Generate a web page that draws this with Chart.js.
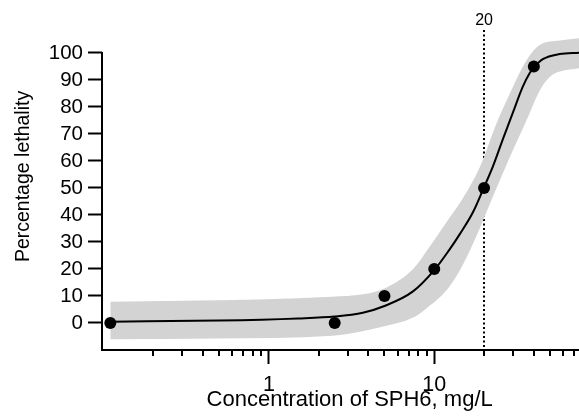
<!DOCTYPE html>
<html>
<head>
<meta charset="utf-8">
<script src="https://cdn.jsdelivr.net/npm/chart.js@4/dist/chart.umd.min.js"></script>
<style>
  html, body { margin: 0; padding: 0; background: #fff; }
  #wrap { width: 579px; height: 417px; }
</style>
</head>
<body>
<div id="wrap"><canvas id="c" width="579" height="417"></canvas></div>
<script>
// ---- data ----
const concentrations = [0.11, 2.5, 5, 10, 20, 40];          // mg/L
const lethality      = [0, 0, 10, 20, 50, 95];                // %

const fitX = [0.11, 0.5, 1.5, 2.5, 3.7, 5, 7.4, 10, 12.3, 14.3, 17.1, 20, 22.6, 25.9, 29.8, 34.3, 37.7, 40.4, 45.3, 57.3, 75];
const fitY = [0.5, 0.9, 1.7, 2.4, 3.8, 6.3, 11.6, 19.6, 27, 33, 40.9, 50.3, 57.9, 67.8, 77.7, 87.5, 92.5, 94.9, 97.7, 99.6, 100.1];

const bandUpperX = [0.11, 0.5, 1.5, 2.4, 3.7, 5.0, 7.5, 9.4, 11.9, 14.3, 18.9, 23.8, 28.7, 36.2, 43.6, 57.5, 75];
const bandUpperY = [7.9, 8.4, 9.2, 9.7, 10.6, 12.8, 20.2, 28.3, 37.5, 44.5, 57.9, 74, 85.1, 97.4, 103, 104.6, 105.4];

const bandLowerX = [0.11, 0.48, 2.44, 5.0, 7.4, 9.0, 11.9, 14.3, 17.2, 22.7, 28.7, 36.2, 43.6, 50.1, 57.5, 75];
const bandLowerY = [-6.0, -5.7, -4.7, -1.2, 1.9, 5.5, 12.2, 19.5, 29.5, 47, 61.6, 75.2, 86.3, 91.2, 93.1, 94.3];

const ec50Marker  = [20];
const yTicks      = [0, 10, 20, 30, 40, 50, 60, 70, 80, 90, 100];
const xMajorTicks = [1, 10];
const xMinorTicks = [0.2, 0.3, 0.4, 0.5, 0.6, 0.7, 0.8, 0.9, 2, 3, 4, 5, 6, 7, 8, 9, 20, 30, 40, 50, 60, 70];

const xTitle = 'Concentration of SPH6, mg/L';
const yTitle = 'Percentage lethality';

// ---- helpers ----
const pts = (xs, ys) => xs.map((x, i) => ({x: x, y: ys[i]}));
const FONT = "'Liberation Sans', Arial, Helvetica, sans-serif";
Chart.defaults.font.family = FONT;
Chart.defaults.color = '#000';

const X_MIN = 0.098, X_MAX = 75, Y_MIN = -10, Y_MAX = 108.5;

const axisExtras = {
  id: 'axisExtras',
  afterDraw(chart) {
    const {ctx, chartArea, scales} = chart;
    const xs = scales.x, ys = scales.y;
    ctx.save();
    ctx.strokeStyle = '#000';
    ctx.lineWidth = 2;
    const top = Math.round(ys.getPixelForValue(yTicks[yTicks.length - 1])) - 1;
    ctx.beginPath();
    ctx.moveTo(Math.round(chartArea.left), top);
    ctx.lineTo(Math.round(chartArea.left), Math.round(chartArea.bottom) + 1);
    ctx.stroke();
    ctx.beginPath();
    xMinorTicks.forEach(v => {
      const px = Math.round(xs.getPixelForValue(v));
      ctx.moveTo(px, Math.round(chartArea.bottom));
      ctx.lineTo(px, Math.round(chartArea.bottom) + 6);
    });
    ctx.stroke();
    ctx.restore();
  }
};

new Chart(document.getElementById('c'), {
  type: 'scatter',
  data: {
    datasets: [
      {
        label: 'observed',
        data: pts(concentrations, lethality),
        pointRadius: 6,
        pointHoverRadius: 6,
        pointBackgroundColor: '#000',
        pointBorderWidth: 0,
        showLine: false
      },
      {
        label: 'fit',
        data: pts(fitX, fitY),
        showLine: true,
        borderColor: '#000',
        borderWidth: 2,
        pointRadius: 0,
        cubicInterpolationMode: 'monotone',
        fill: false
      },
      {
        label: 'band upper',
        data: pts(bandUpperX, bandUpperY),
        showLine: true,
        borderWidth: 0,
        borderColor: 'rgba(0,0,0,0)',
        backgroundColor: '#d3d3d3',
        pointRadius: 0,
        cubicInterpolationMode: 'monotone',
        fill: '+1'
      },
      {
        label: 'band lower',
        data: pts(bandLowerX, bandLowerY),
        showLine: true,
        borderWidth: 0,
        borderColor: 'rgba(0,0,0,0)',
        pointRadius: 0,
        cubicInterpolationMode: 'monotone',
        fill: false
      }
    ]
  },
  options: {
    responsive: false,
    animation: false,
    devicePixelRatio: 1,
    layout: { padding: 0, autoPadding: false },
    plugins: { legend: { display: false }, tooltip: { enabled: false } },
    scales: {
      x: {
        type: 'logarithmic',
        position: 'bottom',
        min: X_MIN, max: X_MAX,
        afterBuildTicks: s => { s.ticks = xMajorTicks.map(v => ({value: v})); },
        afterFit: s => { s.height = 67; },
        ticks: {
          autoSkip: false, maxRotation: 0, padding: 8,
          font: { size: 21.5 }, color: '#000',
          callback: v => String(v)
        },
        grid: { drawOnChartArea: false, drawTicks: true, tickLength: 14, tickWidth: 2, tickColor: '#000' },
        border: { display: true, color: '#000', width: 2 },
        title: { display: true, text: '   ' + xTitle, font: { size: 22 }, color: '#000', padding: { top: 0, bottom: 4 } }
      },
      xTop: {
        type: 'logarithmic',
        position: 'top',
        min: X_MIN, max: X_MAX,
        z: 1,
        afterBuildTicks: s => { s.ticks = ec50Marker.map(v => ({value: v})); },
        afterFit: s => { s.height = 30; },
        ticks: {
          autoSkip: false, maxRotation: 0, padding: 0,
          font: { size: 16 }, color: '#000',
          callback: v => String(v)
        },
        grid: { display: true, drawOnChartArea: true, drawTicks: false, color: '#000', lineWidth: 2 },
        border: { display: false, dash: [2, 2.5] }
      },
      y: {
        type: 'linear',
        position: 'left',
        min: Y_MIN, max: Y_MAX,
        afterBuildTicks: s => { s.ticks = yTicks.map(v => ({value: v})); },
        afterFit: s => { s.width = 102; },
        ticks: { padding: 5, font: { size: 20.5 }, color: '#000' },
        grid: { drawOnChartArea: false, drawTicks: true, tickLength: 14, tickWidth: 2, tickColor: '#000' },
        border: { display: false },
        title: { display: true, text: '     ' + yTitle, font: { size: 19.5 }, color: '#000', padding: { top: 12, bottom: 0 } }
      }
    }
  },
  plugins: [axisExtras]
});
</script>
</body>
</html>
